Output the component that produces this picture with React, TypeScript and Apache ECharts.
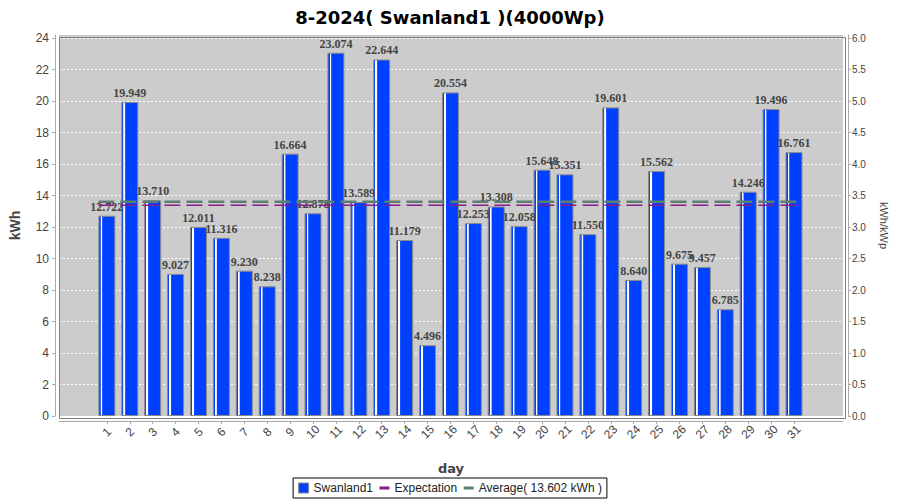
import React, { useEffect, useRef } from "react";
import * as echarts from "echarts";

const TITLE = "8-2024( Swanland1 )(4000Wp)";
const SERIES_NAME = "Swanland1";
const DAYS = [1, 2, 3, 4, 5, 6, 7, 8, 9, 10, 11, 12, 13, 14, 15, 16, 17, 18, 19, 20, 21, 22, 23, 24, 25, 26, 27, 28, 29, 30, 31];
const KWH = [
  12.722, 19.949, 13.71, 9.027, 12.011, 11.316, 9.23, 8.238, 16.664, 12.878,
  23.074, 13.589, 22.644, 11.179, 4.496, 20.554, 12.253, 13.308, 12.058, 15.648,
  15.351, 11.55, 19.601, 8.64, 15.562, 9.675, 9.457, 6.785, 14.246, 19.496, 16.761,
];
const EXPECTATION = 13.39;
const AVERAGE = 13.602;
const PEAK_KWP = 4;
const LEFT_MAX = 24.2;
const LEFT_TICKS = [0, 2, 4, 6, 8, 10, 12, 14, 16, 18, 20, 22, 24];
const RIGHT_TICKS = [0, 0.5, 1, 1.5, 2, 2.5, 3, 3.5, 4, 4.5, 5, 5.5, 6];
const X_MIN = -1.09;
const X_MAX = 33.14;
const HALF_BAR = 0.37;

const BLUE = "#0040ff";
const PURPLE = "#8b1a8b";
const GREY_GREEN = "#5e7f70";
const GRID = { left: 57, right: 57, top: 35, bottom: 84 };

export default function App() {
  const ref = useRef<HTMLDivElement>(null);
  useEffect(() => {
    document.body.style.margin = "0";
    if (!ref.current) return;
    const chart = echarts.init(ref.current, undefined, { renderer: "svg" });
    const avgName = `Average( ${AVERAGE.toFixed(3)} kWh )`;
    const barGradient = new echarts.graphic.LinearGradient(0, 0, 1, 0, [
      { offset: 0, color: BLUE },
      { offset: 0.1, color: BLUE },
      { offset: 0.11, color: "#ffffff" },
      { offset: 0.19, color: "#ffffff" },
      { offset: 0.22, color: "#3366ff" },
      { offset: 0.26, color: BLUE },
      { offset: 1, color: BLUE },
    ]);
    const lineSpan = [DAYS[0] - HALF_BAR, DAYS[DAYS.length - 1] + HALF_BAR];
    const tickFont = { fontFamily: "Liberation Sans", color: "#444" };
    chart.setOption({
      animation: false,
      backgroundColor: "#ffffff",
      title: {
        text: TITLE,
        left: "center",
        top: 3,
        textStyle: { fontFamily: "DejaVu Sans", fontWeight: "bold", fontSize: 18, color: "#000" },
      },
      grid: { ...GRID, show: true, backgroundColor: "#cccccc", borderWidth: 0 },
      legend: {
        bottom: 2,
        left: "center",
        borderColor: "#000",
        borderWidth: 1,
        borderRadius: 0,
        padding: [4, 5],
        itemGap: 5,
        itemWidth: 10,
        itemHeight: 10,
        textStyle: { fontFamily: "Liberation Sans", fontSize: 12, color: "#222" },
        data: [
          { name: SERIES_NAME, icon: "rect", itemStyle: { color: BLUE, borderColor: "#888", borderWidth: 1 } },
          { name: "Expectation", lineStyle: { type: "solid", width: 3, color: PURPLE }, itemStyle: { opacity: 0 } },
          { name: avgName, lineStyle: { type: "solid", width: 3, color: GREY_GREEN }, itemStyle: { opacity: 0 } },
        ],
      },
      xAxis: {
        type: "value",
        min: X_MIN,
        max: X_MAX,
        offset: 5,
        name: "day",
        nameLocation: "middle",
        nameGap: 41,
        nameTextStyle: { fontFamily: "DejaVu Sans", fontWeight: "bold", fontSize: 13, color: "#444" },
        axisLine: { show: true, onZero: false, lineStyle: { color: "#aaa" } },
        axisTick: { show: true, customValues: DAYS, length: 3, lineStyle: { color: "#aaa" } },
        axisLabel: {
          customValues: DAYS,
          rotate: 45,
          align: "center",
          verticalAlign: "middle",
          margin: 11,
          fontSize: 12,
          ...tickFont,
        },
        splitLine: { show: false },
      },
      yAxis: [
        {
          type: "value",
          min: 0,
          max: LEFT_MAX,
          interval: 2,
          offset: 4,
          name: "kWh",
          nameLocation: "middle",
          nameGap: 33,
          nameTextStyle: { fontFamily: "Liberation Sans", fontWeight: "bold", fontSize: 14, color: "#444" },
          axisLine: { show: true, onZero: false, lineStyle: { color: "#aaa" } },
          axisTick: { show: true, customValues: LEFT_TICKS, length: 3, lineStyle: { color: "#aaa" } },
          axisLabel: { customValues: LEFT_TICKS, margin: 6, fontSize: 12, ...tickFont },
          splitLine: { show: true, lineStyle: { color: "#ffffff", width: 1, type: [2, 2] } },
        },
        {
          type: "value",
          min: 0,
          max: LEFT_MAX / PEAK_KWP,
          interval: 0.5,
          offset: 5,
          position: "right",
          name: "kWh/kWp",
          nameLocation: "middle",
          nameRotate: -90,
          nameGap: 30,
          nameTextStyle: { fontFamily: "Liberation Sans", fontSize: 11, color: "#444" },
          axisLine: { show: true, onZero: false, lineStyle: { color: "#aaa" } },
          axisTick: { show: true, customValues: RIGHT_TICKS, length: 3, lineStyle: { color: "#aaa" } },
          axisLabel: {
            customValues: RIGHT_TICKS,
            margin: 4,
            fontSize: 10,
            ...tickFont,
            formatter: (v: number) => v.toFixed(1),
          },
          splitLine: { show: false },
        },
      ],
      series: [
        {
          name: SERIES_NAME,
          type: "bar",
          yAxisIndex: 0,
          barWidth: 17,
          data: DAYS.map((d, i) => [d, KWH[i]]),
          itemStyle: { color: barGradient, borderColor: "#8a8a8a", borderWidth: 1 },
          label: {
            show: true,
            position: "top",
            distance: 3,
            fontFamily: "Liberation Serif",
            fontWeight: "bold",
            fontSize: 12,
            color: "#444",
            formatter: (p: any) => p.value[1].toFixed(3),
          },
          z: 2,
        },
        {
          name: "Expectation",
          type: "line",
          yAxisIndex: 0,
          symbol: "none",
          data: lineSpan.map((x) => [x, EXPECTATION]),
          lineStyle: { color: PURPLE, width: 1.5, type: [16, 6] },
          itemStyle: { color: PURPLE },
          z: 4,
        },
        {
          name: avgName,
          type: "line",
          yAxisIndex: 0,
          symbol: "none",
          data: lineSpan.map((x) => [x, AVERAGE]),
          lineStyle: { color: GREY_GREEN, width: 2.5, type: [16, 6] },
          itemStyle: { color: GREY_GREEN },
          z: 4,
        },
      ],
      graphic: [
        {
          type: "rect",
          left: GRID.left,
          top: GRID.top,
          shape: { width: 900 - GRID.left - GRID.right, height: 500 - GRID.top - GRID.bottom },
          style: { fill: "none", stroke: "#808080", lineWidth: 1 },
          z: 10,
          silent: true,
        },
      ],
    });
    return () => chart.dispose();
  }, []);
  return <div ref={ref} style={{ width: 900, height: 500 }} />;
}
